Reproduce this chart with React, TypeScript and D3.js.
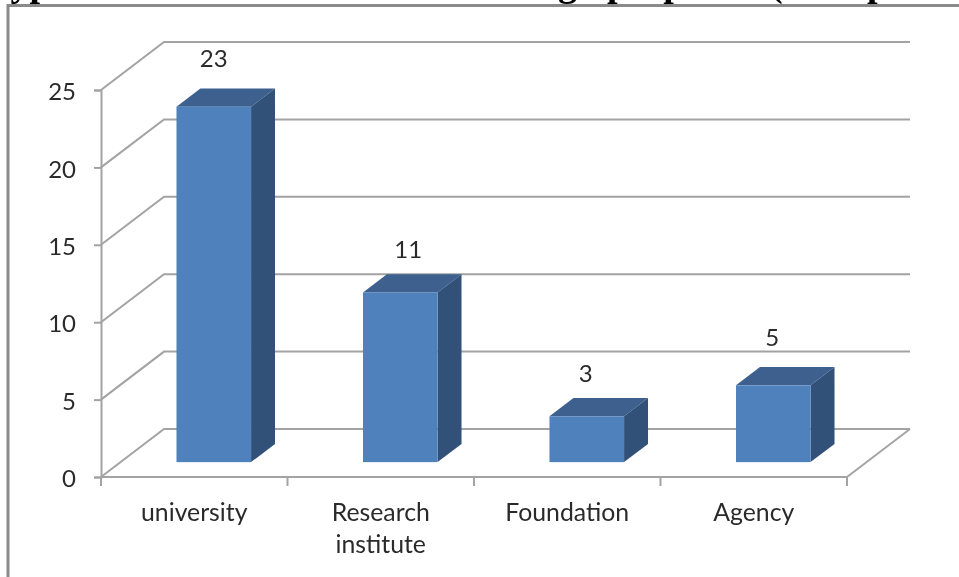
import * as d3 from "d3";
import { useEffect, useRef } from "react";

const width = 959;
const height = 577;

// only the bottoms of the title letters survive the crop at the top of the picture
const titleParts = ["Types", "g", "proposals", "(Occup"];

const categories = ["university", "Research institute", "Foundation", "Agency"];
const values = [23, 11, 3, 5];
const yTicks = [0, 5, 10, 15, 20, 25];

const gridColor = "#a3a3a3";
const textColor = "#2b2b2b";
const labelFont = "Lato, sans-serif";

function createChart(svgEl: SVGSVGElement) {
  const root = d3.select(svgEl);
  root.selectAll("*").remove();

  // the reference is a soft, upscaled bitmap
  root
    .append("defs")
    .append("filter")
    .attr("id", "soft")
    .attr("x", 0)
    .attr("y", 0)
    .attr("width", 1)
    .attr("height", 1)
    .append("feGaussianBlur")
    .attr("stdDeviation", 0.45);
  const svg = root.append("g").attr("filter", "url(#soft)");
  svg.append("rect").attr("width", width).attr("height", height).attr("fill", "#fff");

  const x = d3.scaleBand<string>().domain(categories).range([101, 847]);
  const y = d3.scaleLinear().domain([0, 25]).range([477, 90]);

  // depth of the 3d box, 0 = front plane and 1 = back wall
  const zx = d3.scaleLinear().domain([0, 1]).range([0, 63]);
  const zy = d3.scaleLinear().domain([0, 1]).range([0, -48]);
  const barZ0 = 0.31;
  const barZ1 = 0.69;
  const barWidth = x.step() / 2.5;

  // chart frame
  svg
    .append("path")
    .attr("d", `M8,${height + 5}V5.5H${width + 5}`)
    .attr("fill", "none")
    .attr("stroke", "#8a8a8a")
    .attr("stroke-width", 3);

  // title, cut off by the top edge
  const titleX = [-12, 558, 607, 770];
  svg
    .append("g")
    .attr("font-family", "'Liberation Serif', serif")
    .attr("font-weight", "bold")
    .attr("font-size", 38)
    .attr("fill", "#000")
    .selectAll("text")
    .data(titleParts)
    .join("text")
    .attr("x", (d, i) => titleX[i])
    .attr("y", -4)
    .text((d) => d);

  // back wall lines with the side wall going back from the axis
  const wall = d3.line();
  svg
    .append("g")
    .selectAll("path")
    .data(yTicks)
    .join("path")
    .attr("d", (d) =>
      wall([
        [x.range()[0], y(d)],
        [x.range()[0] + zx(1), y(d) + zy(1)],
        [x.range()[1] + zx(1), y(d) + zy(1)],
      ])
    )
    .attr("fill", "none")
    .attr("stroke", gridColor)
    .attr("stroke-width", 2);

  // floor edge on the right
  svg
    .append("path")
    .attr(
      "d",
      wall([
        [x.range()[1], y(0)],
        [x.range()[1] + zx(1), y(0) + zy(1)],
      ])
    )
    .attr("fill", "none")
    .attr("stroke", gridColor)
    .attr("stroke-width", 2);

  // vertical axis
  const yAxis = svg
    .append("g")
    .attr("transform", `translate(${x.range()[0]},0)`)
    .call(d3.axisLeft(y).tickValues(yTicks).tickSize(7).tickPadding(18));
  yAxis.selectAll("path, line").attr("stroke", gridColor).attr("stroke-width", 2);
  yAxis
    .selectAll("text")
    .attr("dy", "0.4em")
    .attr("fill", textColor)
    .style("font-family", labelFont)
    .style("font-size", "24px");

  // horizontal axis, ticks sit between the categories
  const xAxis = svg.append("g");
  xAxis
    .append("line")
    .attr("x1", x.range()[0])
    .attr("x2", x.range()[1])
    .attr("y1", y(0))
    .attr("y2", y(0))
    .attr("stroke", gridColor)
    .attr("stroke-width", 2);
  xAxis
    .selectAll("line.tick")
    .data([0, 1, 2, 3, 4])
    .join("line")
    .classed("tick", true)
    .attr("x1", (i) => x.range()[0] + i * x.step())
    .attr("x2", (i) => x.range()[0] + i * x.step())
    .attr("y1", y(0))
    .attr("y2", y(0) + 9)
    .attr("stroke", gridColor)
    .attr("stroke-width", 2);

  const catLabels = xAxis
    .selectAll("text")
    .data(categories)
    .join("text")
    .attr("text-anchor", "middle")
    .attr("fill", textColor)
    .style("font-family", labelFont)
    .style("font-size", "24.8px");
  catLabels
    .selectAll("tspan")
    .data((d) => d.split(" ").map((word) => ({ word, cat: d })))
    .join("tspan")
    .attr("x", (d) => (x(d.cat) as number) + x.bandwidth() / 2)
    .attr("y", (d, i) => 521 + i * 32)
    .text((d) => d.word);

  // bars, one group per category
  const bars = svg
    .append("g")
    .selectAll("g")
    .data(categories.map((name, i) => ({ name, value: values[i] })))
    .join("g");

  const left = (d: { name: string }) =>
    (x(d.name) as number) + (x.bandwidth() - barWidth) / 2 + zx(barZ0);
  const base = y(0) + zy(barZ0);
  const top = (d: { value: number }) => y(d.value) + zy(barZ0) + 0.6;
  const dx = zx(barZ1) - zx(barZ0);
  const dy = zy(barZ1) - zy(barZ0);

  // top face
  bars
    .append("path")
    .attr("fill", "#3c618f")
    .attr("d", (d) => {
      const l = left(d);
      const t = top(d);
      return `M${l},${t}L${l + dx},${t + dy}H${l + dx + barWidth}L${l + barWidth},${t}Z`;
    });

  // side face
  bars
    .append("path")
    .attr("fill", "#325178")
    .attr("d", (d) => {
      const r = left(d) + barWidth;
      return `M${r},${top(d)}L${r + dx},${top(d) + dy}V${base + dy}L${r},${base}Z`;
    });

  // front face
  bars
    .append("rect")
    .attr("x", left)
    .attr("y", top)
    .attr("width", barWidth)
    .attr("height", (d) => base - top(d))
    .attr("fill", "#4f81bd");

  // value labels
  const labelNudgeX = [0, 8, -1, -1];
  const labelNudgeY = [0, 6, 6, 1];
  bars
    .append("text")
    .attr("x", (d, i) => left(d) + barWidth / 2 + labelNudgeX[i])
    .attr("y", (d, i) => top(d) - 40 + labelNudgeY[i])
    .attr("text-anchor", "middle")
    .attr("fill", textColor)
    .style("font-family", labelFont)
    .style("font-size", "24px")
    .text((d) => d.value);
}

export default function App() {
  const ref = useRef<SVGSVGElement>(null);

  useEffect(() => {
    if (ref.current) createChart(ref.current);
  }, []);

  return (
    <svg
      ref={ref}
      width={width}
      height={height}
      style={{ position: "absolute", left: 0, top: 0, background: "#fff" }}
    ></svg>
  );
}
